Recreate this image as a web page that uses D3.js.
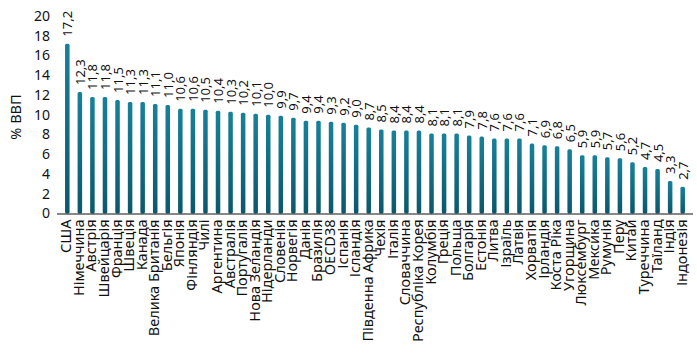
<!DOCTYPE html>
<html>
<head>
<meta charset="utf-8">
<script src="https://cdn.jsdelivr.net/npm/d3@7"></script>
<style>
  body { margin: 0; background: #fff; }
  text { font-family: "Noto Sans", "Open Sans", sans-serif; fill: #111; }
</style>
</head>
<body>
<div id="chart"></div>
<script>
const countries = ["США", "Німеччина", "Австрія", "Швейцарія", "Франція", "Швеція", "Канада",
  "Велика Британія", "Бельгія", "Японія", "Фінляндія", "Чилі", "Аргентина", "Австралія",
  "Португалія", "Нова Зеландія", "Нідерланди", "Словенія", "Норвегія", "Данія", "Бразилія",
  "OECD38", "Іспанія", "Ісландія", "Південна Африка", "Чехія", "Італія", "Словаччина",
  "Республіка Корея", "Колумбія", "Греція", "Польща", "Болгарія", "Естонія", "Литва",
  "Ізраїль", "Латвія", "Хорватія", "Ірландія", "Коста Ріка", "Угорщина", "Люксембург",
  "Мексика", "Румунія", "Перу", "Китай", "Туреччина", "Таїланд", "Індія", "Індонезія"];

const spending = [17.2, 12.3, 11.8, 11.8, 11.5, 11.3, 11.3, 11.1, 11.0, 10.6, 10.6, 10.5, 10.4,
  10.3, 10.2, 10.1, 10.0, 9.9, 9.7, 9.4, 9.4, 9.3, 9.2, 9.0, 8.7, 8.5, 8.4, 8.4, 8.4, 8.1, 8.1,
  8.1, 7.9, 7.8, 7.6, 7.6, 7.6, 7.1, 6.9, 6.8, 6.5, 5.9, 5.9, 5.7, 5.6, 5.2, 4.7, 4.5, 3.3, 2.7];

const yTicks = [0, 2, 4, 6, 8, 10, 12, 14, 16, 18, 20];

const width = 697, height = 354;
const data = countries.map((c, i) => ({ name: c, value: spending[i] }));

const x = d3.scaleBand().domain(countries).range([57, 693]).padding(0.64);
const y = d3.scaleLinear().domain([0, 20]).range([213.5, 16]);

const svg = d3.select("#chart").append("svg")
  .attr("width", width)
  .attr("height", height);

// gradient for the bars
const grad = svg.append("defs").append("linearGradient")
  .attr("id", "barGrad")
  .attr("x1", 0).attr("y1", 0).attr("x2", 0).attr("y2", 1);
grad.append("stop").attr("offset", "0%").attr("stop-color", "#17819a");
grad.append("stop").attr("offset", "100%").attr("stop-color", "#0b586d");

// y axis labels only, no axis line
const yAxis = svg.append("g")
  .attr("transform", "translate(50,0)")
  .call(d3.axisLeft(y).tickValues(yTicks).tickSize(0).tickPadding(0));
yAxis.select(".domain").remove();
yAxis.selectAll("text")
  .style("font-family", "'Noto Sans', sans-serif")
  .style("font-size", "14px")
  .attr("fill", "#111");

// y label
svg.append("text")
  .attr("transform", "translate(15," + 117 + ") rotate(-90)")
  .attr("text-anchor", "middle")
  .attr("dominant-baseline", "central")
  .style("font-size", "14.5px")
  .text("% ВВП");

// bars
svg.selectAll(".bar")
  .data(data)
  .join("rect")
  .attr("class", "bar")
  .attr("x", d => x(d.name))
  .attr("y", d => y(d.value))
  .attr("width", x.bandwidth())
  .attr("height", d => y(0) - y(d.value))
  .attr("rx", 1.5)
  .attr("fill", "url(#barGrad)");

// baseline
svg.append("line")
  .attr("x1", 57).attr("x2", 693)
  .attr("y1", y(0) + 0.5).attr("y2", y(0) + 0.5)
  .attr("stroke", "#111")
  .attr("stroke-width", 1.2);

// value labels
svg.selectAll(".val")
  .data(data)
  .join("text")
  .attr("class", "val")
  .attr("transform", d => "translate(" + (x(d.name) + x.bandwidth() / 2) + "," + (y(d.value) - 7) + ") rotate(-90)")
  .attr("dominant-baseline", "central")
  .style("font-size", "13px")
  .text(d => d.value.toFixed(1).replace(".", ","));

// category labels
svg.selectAll(".cat")
  .data(data)
  .join("text")
  .attr("class", "cat")
  .attr("transform", d => "translate(" + (x(d.name) + x.bandwidth() / 2 - 2) + "," + (y(0) + 6) + ") rotate(-90)")
  .attr("text-anchor", "end")
  .attr("dominant-baseline", "central")
  .style("font-size", "14.5px")
  .text(d => d.name);
</script>
</body>
</html>
